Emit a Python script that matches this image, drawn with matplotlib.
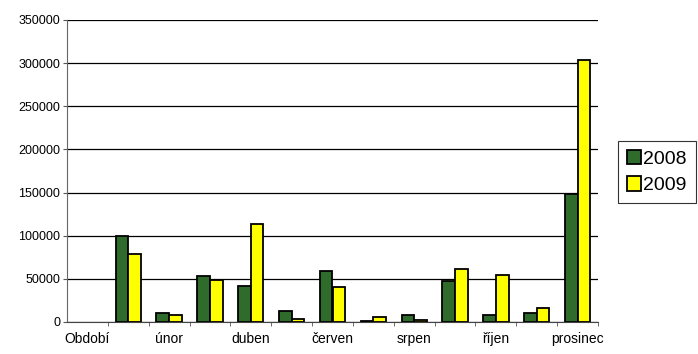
import matplotlib
matplotlib.use("Agg")
import matplotlib.pyplot as plt
import numpy as np

plt.rcParams['font.family'] = ['Liberation Sans', 'DejaVu Sans']

categories = ["Období", "leden", "únor", "březen", "duben", "květen", "červen",
              "červenec", "srpen", "září", "říjen", "listopad", "prosinec"]
shown_labels = ["Období", "", "únor", "", "duben", "", "červen",
                "", "srpen", "", "říjen", "", "prosinec"]
series_names = ["2008", "2009"]
values_2008 = [np.nan, 100000, 10500, 53000, 42000, 13000, 59000, 1500, 8000, 47000, 8500, 10000, 148000]
values_2009 = [np.nan, 79000, 8000, 49000, 113000, 4000, 40000, 6000, 2000, 62000, 55000, 16000, 304000]
yticks = [0, 50000, 100000, 150000, 200000, 250000, 300000, 350000]

fig = plt.figure(figsize=(6.98, 3.54), dpi=100)
ax = fig.add_axes([67/698, 1 - 322/354, (598-67)/698, (322-20)/354])

x = np.arange(len(categories))
w = 0.31
b1 = ax.bar(x - w/2, values_2008, w, color="#2f6b2a", edgecolor="black", linewidth=1.3, label=series_names[0], zorder=3)
b2 = ax.bar(x + w/2, values_2009, w, color="#ffff00", edgecolor="black", linewidth=1.3, label=series_names[1], zorder=3)

ax.set_xlim(-0.5, len(categories) - 0.5)
ax.set_ylim(0, 350000)
ax.set_yticks(yticks)
ax.set_yticklabels([str(v) for v in yticks], fontsize=9)
ax.yaxis.grid(True, color="black", linewidth=0.9, zorder=0)
ax.set_axisbelow(True)

ax.set_xticks(x)
ax.set_xticklabels(shown_labels, fontsize=10)
ax.tick_params(axis='x', length=0, pad=7)
ax.set_xticks(np.arange(len(categories)) + 0.5, minor=True)
ax.tick_params(axis='x', which='minor', length=3, color="#555555")
ax.tick_params(axis='y', length=3, color="#555555", pad=2)

for s in ["top", "right"]:
    ax.spines[s].set_visible(False)
ax.spines["left"].set_color("#666666")
ax.spines["bottom"].set_color("#444444")

leg = fig.legend(handles=[b1, b2], labels=series_names, loc="upper left",
                 bbox_to_anchor=(618/698, 1 - 141/354), fontsize=14,
                 frameon=True, fancybox=False, edgecolor="black",
                 handlelength=0.75, handleheight=0.75, handletextpad=0.1,
                 borderpad=0.45, labelspacing=0.45, borderaxespad=0)
leg.get_frame().set_linewidth(0.8)

fig.savefig("out.png", dpi=100)
